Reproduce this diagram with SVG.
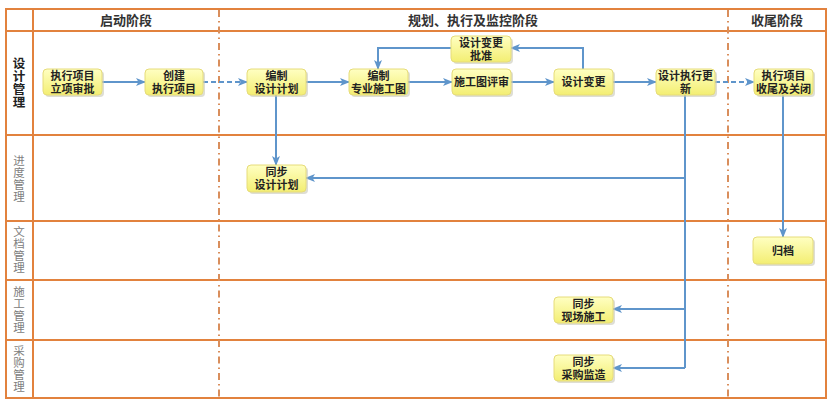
<svg xmlns="http://www.w3.org/2000/svg" width="830" height="404" viewBox="0 0 830 404">
<defs>
<style>
.frame{fill:none;stroke:#E2823E;stroke-width:2}
.phase{fill:none;stroke:#D98E5C;stroke-width:2;stroke-dasharray:7 4 1.5 4}
.hdr{font-family:"Noto Sans CJK SC","Noto Sans CJK JP",sans-serif;font-size:13px;font-weight:bold;fill:#333;text-anchor:middle}
.lane{font-family:"Noto Sans CJK SC",sans-serif;font-size:11.5px;fill:#808080;text-anchor:middle;writing-mode:vertical-rl;letter-spacing:0.5px}
.lane1{font-family:"Noto Sans CJK SC",sans-serif;font-size:12.5px;font-weight:bold;fill:#222;text-anchor:middle;writing-mode:vertical-rl;letter-spacing:0.5px}
.box{fill:url(#yg);stroke:#E6DC7A;stroke-width:1}
.shadow{fill:#C8C8B8;opacity:.6}
.t{font-family:"Noto Sans CJK SC",sans-serif;font-size:11px;font-weight:bold;fill:#222;text-anchor:middle}
.c{fill:none;stroke:#5F95CB;stroke-width:2;marker-end:url(#ah)}
.cn{fill:none;stroke:#5F95CB;stroke-width:2}
.d{stroke-dasharray:5 3}
</style>
<linearGradient id="yg" x1="0" y1="0" x2="0" y2="1">
<stop offset="0" stop-color="#FFFFC2"/>
<stop offset="1" stop-color="#F3EE72"/>
</linearGradient>
<marker id="ah" markerWidth="10" markerHeight="8" refX="9" refY="4" orient="auto" markerUnits="userSpaceOnUse">
<path d="M0,0 L10,4 L0,8 L2.5,4 Z" fill="#5F95CB"/>
</marker>
</defs>
<rect width="830" height="404" fill="#fff"/>

<g id="grid">
<rect class="frame" x="6" y="9" width="820" height="389"/>
<line class="frame" x1="6" y1="31" x2="826" y2="31"/>
<line class="frame" x1="6" y1="135" x2="826" y2="135"/>
<line class="frame" x1="6" y1="221" x2="826" y2="221"/>
<line class="frame" x1="6" y1="280" x2="826" y2="280"/>
<line class="frame" x1="6" y1="340" x2="826" y2="340"/>
<line class="frame" x1="33" y1="9" x2="33" y2="398"/>
<line class="phase" x1="219" y1="10" x2="219" y2="397"/>
<line class="phase" x1="728" y1="10" x2="728" y2="397"/>
<text class="hdr" x="126" y="25">启动阶段</text>
<text class="hdr" x="473" y="25">规划、执行及监控阶段</text>
<text class="hdr" x="777" y="25">收尾阶段</text>
<text class="lane1" x="19" y="83">设计管理</text>
<text class="lane" x="19" y="179">进度管理</text>
<text class="lane" x="19" y="250">文档管理</text>
<text class="lane" x="19" y="310">施工管理</text>
<text class="lane" x="19" y="369">采购管理</text>
</g>

<g id="connectors">
<line class="c" x1="102" y1="82" x2="145" y2="82"/>
<line class="c d" x1="203" y1="82" x2="247" y2="82"/>
<line class="c" x1="306" y1="82" x2="349" y2="82"/>
<line class="c" x1="408" y1="82" x2="452" y2="82"/>
<line class="c" x1="511" y1="82" x2="554" y2="82"/>
<line class="c" x1="613" y1="82" x2="656" y2="82"/>
<line class="c d" x1="715" y1="82" x2="754" y2="82"/>
<polyline class="c" points="583,69 583,48 511,48"/>
<polyline class="c" points="451,48 378,48 378,69"/>
<line class="c" x1="276" y1="95" x2="276" y2="165"/>
<polyline class="cn" points="685,95 685,368"/>
<polyline class="c" points="685,178 306,178"/>
<polyline class="c" points="685,309 613,309"/>
<polyline class="c" points="685,368 613,368"/>
<line class="c" x1="783" y1="95" x2="783" y2="237"/>
</g>

<g id="n1"><rect class="shadow" x="45" y="71" width="59" height="26" rx="4"/><rect class="box" x="43" y="69" width="59" height="26" rx="4"/><text class="t"><tspan x="72.5" y="80">执行项目</tspan><tspan x="72.5" y="93">立项审批</tspan></text></g>
<g id="n2"><rect class="shadow" x="147" y="71" width="58" height="26" rx="4"/><rect class="box" x="145" y="69" width="58" height="26" rx="4"/><text class="t"><tspan x="174" y="80">创建</tspan><tspan x="174" y="93">执行项目</tspan></text></g>
<g id="n3"><rect class="shadow" x="249" y="71" width="59" height="26" rx="4"/><rect class="box" x="247" y="69" width="59" height="26" rx="4"/><text class="t"><tspan x="276.5" y="80">编制</tspan><tspan x="276.5" y="93">设计计划</tspan></text></g>
<g id="n4"><rect class="shadow" x="351" y="71" width="59" height="26" rx="4"/><rect class="box" x="349" y="69" width="59" height="26" rx="4"/><text class="t"><tspan x="378.5" y="80">编制</tspan><tspan x="378.5" y="93">专业施工图</tspan></text></g>
<g id="n5"><rect class="shadow" x="453" y="38" width="60" height="26" rx="4"/><rect class="box" x="451" y="36" width="60" height="26" rx="4"/><text class="t"><tspan x="481" y="47">设计变更</tspan><tspan x="481" y="60">批准</tspan></text></g>
<g id="n6"><rect class="shadow" x="454" y="71" width="59" height="26" rx="4"/><rect class="box" x="452" y="69" width="59" height="26" rx="4"/><text class="t" x="481.5" y="86">施工图评审</text></g>
<g id="n7"><rect class="shadow" x="556" y="71" width="59" height="26" rx="4"/><rect class="box" x="554" y="69" width="59" height="26" rx="4"/><text class="t" x="583.5" y="86">设计变更</text></g>
<g id="n8"><rect class="shadow" x="658" y="71" width="59" height="26" rx="4"/><rect class="box" x="656" y="69" width="59" height="26" rx="4"/><text class="t"><tspan x="685.5" y="80">设计执行更</tspan><tspan x="685.5" y="93">新</tspan></text></g>
<g id="n9"><rect class="shadow" x="756" y="71" width="59" height="26" rx="4"/><rect class="box" x="754" y="69" width="59" height="26" rx="4"/><text class="t"><tspan x="783.5" y="80">执行项目</tspan><tspan x="783.5" y="93">收尾及关闭</tspan></text></g>
<g id="n10"><rect class="shadow" x="249" y="167" width="59" height="27" rx="4"/><rect class="box" x="247" y="165" width="59" height="27" rx="4"/><text class="t"><tspan x="276.5" y="176">同步</tspan><tspan x="276.5" y="189">设计计划</tspan></text></g>
<g id="n11"><rect class="shadow" x="755" y="239" width="60" height="27" rx="4"/><rect class="box" x="753" y="237" width="60" height="27" rx="4"/><text class="t" x="783" y="255">归档</text></g>
<g id="n12"><rect class="shadow" x="556" y="299" width="59" height="26" rx="4"/><rect class="box" x="554" y="297" width="59" height="26" rx="4"/><text class="t"><tspan x="583.5" y="308">同步</tspan><tspan x="583.5" y="321">现场施工</tspan></text></g>
<g id="n13"><rect class="shadow" x="556" y="357" width="59" height="26" rx="4"/><rect class="box" x="554" y="355" width="59" height="26" rx="4"/><text class="t"><tspan x="583.5" y="366">同步</tspan><tspan x="583.5" y="379">采购监造</tspan></text></g>
</svg>
